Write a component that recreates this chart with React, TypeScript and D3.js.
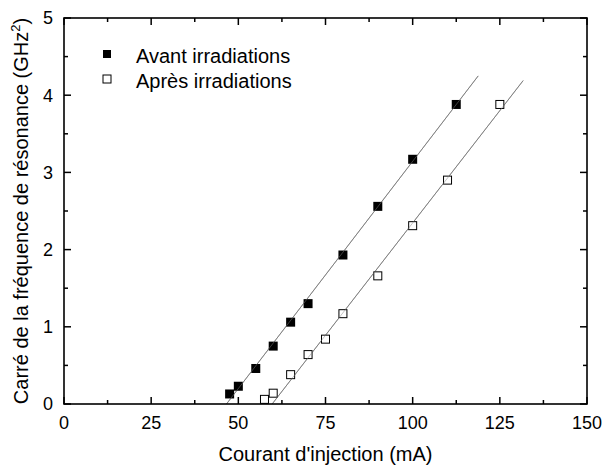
import React from "react";
import * as d3 from "d3";

const avantI = [47.5, 50, 55, 60, 65, 70, 80, 90, 100, 112.5];
const avantF2 = [0.13, 0.23, 0.46, 0.75, 1.06, 1.3, 1.93, 2.56, 3.17, 3.88];
const apresI = [57.5, 60, 65, 70, 75, 80, 90, 100, 110, 125];
const apresF2 = [0.06, 0.14, 0.38, 0.64, 0.84, 1.17, 1.66, 2.31, 2.9, 3.88];
// fitted line endpoints
const avantFitI = [46.6, 118.8];
const avantFitF2 = [0, 4.25];
const apresFitI = [59.7, 131.7];
const apresFitF2 = [0, 4.19];

const xTicks = [0, 25, 50, 75, 100, 125, 150];
const xMinor = [12.5, 37.5, 62.5, 87.5, 112.5, 137.5];
const yTicks = [0, 1, 2, 3, 4, 5];
const yMinor = [0.5, 1.5, 2.5, 3.5, 4.5];

const legendLabels = ["Avant irradiations", "Après irradiations"];

const W = 602;
const H = 469;
const L = 64, R = 587, T = 18, B = 404;
const FONT = "'Liberation Sans', Arial, sans-serif";

export default function App() {
  const x = d3.scaleLinear().domain([0, 150]).range([L, R]);
  const y = d3.scaleLinear().domain([0, 5]).range([B, T]);
  const line = d3.line<[number, number]>().x((d) => x(d[0])).y((d) => y(d[1]));
  const avantPts = avantI.map((v, i) => [v, avantF2[i]] as [number, number]);
  const apresPts = apresI.map((v, i) => [v, apresF2[i]] as [number, number]);
  const avantFit = avantFitI.map((v, i) => [v, avantFitF2[i]] as [number, number]);
  const apresFit = apresFitI.map((v, i) => [v, apresFitF2[i]] as [number, number]);
  const S = 9;
  const major = 7, minor = 4;

  return (
    <svg width={W} height={H} style={{ position: "absolute", left: 0, top: 0, background: "#fff" }} fontFamily={FONT}>
      <rect x={0} y={0} width={W} height={H} fill="#fff" />
      {/* fit lines */}
      <path d={line(avantFit) || ""} stroke="#808080" strokeWidth={1} fill="none" />
      <path d={line(apresFit) || ""} stroke="#808080" strokeWidth={1} fill="none" />
      {/* markers */}
      {avantPts.map((p, i) => (
        <rect key={"a" + i} x={x(p[0]) - S / 2} y={y(p[1]) - S / 2} width={S} height={S} fill="#000" />
      ))}
      {apresPts.map((p, i) => (
        <rect key={"b" + i} x={x(p[0]) - (S - 1) / 2} y={y(p[1]) - (S - 1) / 2} width={S - 1} height={S - 1} fill="#fff" stroke="#000" strokeWidth={1} />
      ))}
      {/* re-draw fit lines lightly through markers */}
      <path d={line(avantFit) || ""} stroke="#808080" strokeWidth={0.8} fill="none" opacity={0.6} />
      <path d={line(apresFit) || ""} stroke="#808080" strokeWidth={0.8} fill="none" opacity={0.6} />
      {/* frame */}
      <rect x={L} y={T} width={R - L} height={B - T} fill="none" stroke="#000" strokeWidth={1.6} />
      {/* x ticks */}
      {xTicks.map((t) => (
        <g key={"xt" + t}>
          <line x1={x(t)} x2={x(t)} y1={B} y2={B - major} stroke="#000" strokeWidth={1.5} />
          <line x1={x(t)} x2={x(t)} y1={T} y2={T + major} stroke="#000" strokeWidth={1.5} />
          <text x={x(t)} y={429} fontSize={18} textAnchor="middle" fill="#000">{t}</text>
        </g>
      ))}
      {xMinor.map((t) => (
        <g key={"xm" + t}>
          <line x1={x(t)} x2={x(t)} y1={B} y2={B - minor} stroke="#000" strokeWidth={1.5} />
          <line x1={x(t)} x2={x(t)} y1={T} y2={T + minor} stroke="#000" strokeWidth={1.5} />
        </g>
      ))}
      {yTicks.map((t) => (
        <g key={"yt" + t}>
          <line x1={L} x2={L + major} y1={y(t)} y2={y(t)} stroke="#000" strokeWidth={1.5} />
          <line x1={R} x2={R - major} y1={y(t)} y2={y(t)} stroke="#000" strokeWidth={1.5} />
          <text x={53} y={y(t)} dy="0.35em" fontSize={18} textAnchor="end" fill="#000">{t}</text>
        </g>
      ))}
      {yMinor.map((t) => (
        <g key={"ym" + t}>
          <line x1={L} x2={L + minor} y1={y(t)} y2={y(t)} stroke="#000" strokeWidth={1.5} />
          <line x1={R} x2={R - minor} y1={y(t)} y2={y(t)} stroke="#000" strokeWidth={1.5} />
        </g>
      ))}
      {/* axis titles */}
      <text x={(L + R) / 2} y={461} fontSize={20} textAnchor="middle" fill="#000">Courant d'injection (mA)</text>
      <text transform={`translate(28, ${(T + B) / 2}) rotate(-90)`} fontSize={20} textAnchor="middle" fill="#000">
        Carré de la fréquence de résonance (GHz<tspan dy={-8} fontSize={13}>2</tspan><tspan dy={8}>)</tspan>
      </text>
      {/* legend */}
      <rect x={107 - 4} y={54 - 4} width={8} height={8} fill="#000" />
      <text x={136} y={63} fontSize={20} fill="#000">{legendLabels[0]}</text>
      <rect x={107 - 4} y={79 - 4} width={8} height={8} fill="#fff" stroke="#000" strokeWidth={1} />
      <text x={136} y={88} fontSize={20} fill="#000">{legendLabels[1]}</text>
    </svg>
  );
}
